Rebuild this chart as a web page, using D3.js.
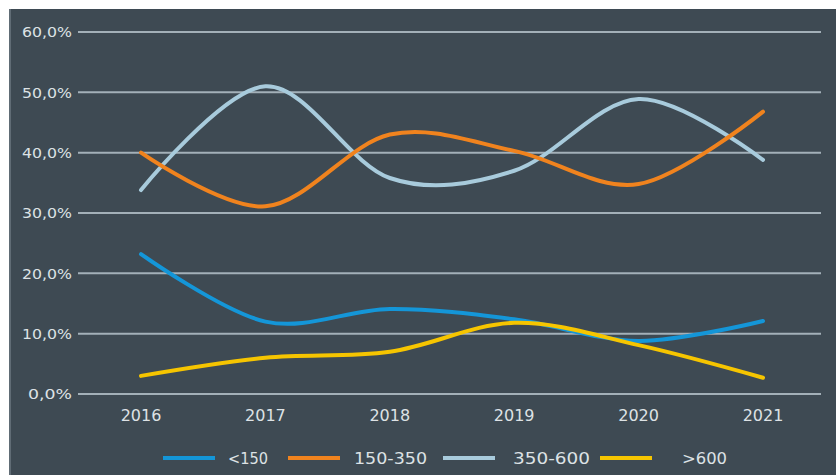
<!DOCTYPE html>
<html><head><meta charset="utf-8">
<script src="https://cdn.jsdelivr.net/npm/d3@7"></script>
<style>
html,body{margin:0;padding:0;background:#fff;}
svg{display:block;}
</style></head>
<body>
<svg id="c" width="836" height="475"></svg>
<script>
const years = ["2016","2017","2018","2019","2020","2021"];
const seriesNames = ["<150","150-350","350-600",">600"];
const seriesColors = ["#1496d8","#f0831e","#a8cbdc","#f6c500"];
const s150 = [23.2, 12.0, 14.1, 12.4, 8.8, 12.1];
const s150_350 = [40.0, 31.1, 43.0, 40.3, 34.8, 46.8];
const s350_600 = [33.8, 51.0, 35.8, 37.0, 48.9, 38.8];
const s600 = [3.0, 6.0, 7.0, 11.8, 8.1, 2.7];
const yTicks = [0,10,20,30,40,50,60];
const tickLabels = ["0,0%","10,0%","20,0%","30,0%","40,0%","50,0%","60,0%"];
const allSeries = [s150, s150_350, s350_600, s600];

const svg = d3.select("#c");
svg.append("rect").attr("x",9).attr("y",9).attr("width",827).attr("height",466).attr("fill","#3e4a53");
svg.append("line").attr("x1",10).attr("x2",10).attr("y1",9).attr("y2",475).attr("stroke","#6c7880").attr("stroke-width",1.5);

const x = d3.scalePoint().domain(years).range([141,763]);
const y = d3.scaleLinear().domain([0,60]).range([394,32]);

const font = "'DejaVu Sans', sans-serif";
const txt = "#dde2e5";

// gridlines
svg.append("g").selectAll("line").data(yTicks).join("line")
  .attr("x1",78).attr("x2",821)
  .attr("y1",d=>y(d)).attr("y2",d=>y(d))
  .attr("stroke","#a3b0b8").attr("stroke-width",2);

// y labels
svg.append("g").selectAll("text").data(yTicks).join("text")
  .attr("x",72).attr("y",d=>y(d)).attr("dy","0.36em")
  .attr("text-anchor","end").attr("fill",txt)
  .attr("font-family",font).attr("font-size",14.5)
  .attr("textLength",d=>d===0?44:50).attr("lengthAdjust","spacingAndGlyphs")
  .text((d,i)=>tickLabels[i]);

// x labels
svg.append("g").selectAll("text").data(years).join("text")
  .attr("x",d=>x(d)).attr("y",415).attr("dy","0.36em")
  .attr("text-anchor","middle").attr("fill",txt)
  .attr("font-family",font).attr("font-size",16)
  .text(d=>d);

const line = d3.line().x((d,i)=>x(years[i])).y(d=>y(d)).curve(d3.curveCardinal.tension(0));

// draw order: 350-600, 150-350, <150, >600
const order = [2,1,0,3];
order.forEach(k=>{
  svg.append("path").datum(allSeries[k]).attr("d",line)
    .attr("fill","none").attr("stroke",seriesColors[k])
    .attr("stroke-width",4).attr("stroke-linecap","round");
});

// legend
const legX = [163, 288, 443, 600];
const legTextX = [228, 354, 513, 682];
const legTextW = [40, 73, 77, 45];
const lg = svg.append("g");
seriesNames.forEach((n,i)=>{
  lg.append("line").attr("x1",legX[i]).attr("x2",legX[i]+52).attr("y1",458).attr("y2",458)
    .attr("stroke",seriesColors[i]).attr("stroke-width",4);
  lg.append("text").attr("x",legTextX[i]).attr("y",458).attr("dy","0.36em")
    .attr("fill",txt).attr("font-family",font).attr("font-size",16)
    .attr("textLength",legTextW[i]).attr("lengthAdjust","spacingAndGlyphs")
    .text(n);
});
</script>
</body></html>
